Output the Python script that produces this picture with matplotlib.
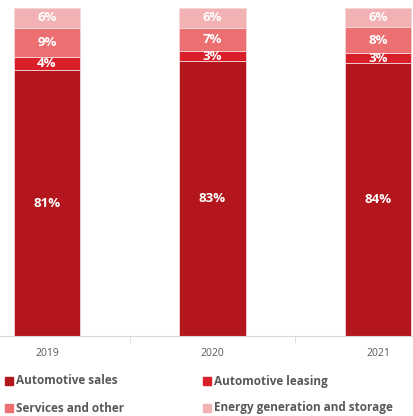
import numpy as np
import matplotlib.pyplot as plt
from matplotlib.patches import Rectangle

#Data
years = ['2019', '2020', '2021']
auto_sales = [81, 83, 84]
auto_leasing = [4, 3, 3]
services = [9, 7, 8]
energy = [6, 6, 6]

series = [auto_sales, auto_leasing, services, energy]
names = ['Automotive sales', 'Automotive leasing', 'Services and other', 'Energy generation and storage']
colors = ['#B3161D', '#D9202A', '#EC6F72', '#F2B1B3']

plt.rcParams['font.family'] = ['Open Sans', 'DejaVu Sans']

fig = plt.figure(figsize=(4.14, 4.16), dpi=100)
ax = fig.add_axes([0, 80/416, 1, 328/416])

x = np.arange(len(years))
totals = np.sum(np.array(series, dtype=float), axis=0)   # 100% stacked
bottom = np.zeros(len(years))
for vals, c in zip(series, colors):
    raw = np.array(vals, dtype=float)
    share = raw / totals * 100
    ax.bar(x, share, 0.40, bottom=bottom, color=c, edgecolor='#F4D6D7', linewidth=0.6)
    for xi, b, s, v in zip(x, bottom, share, raw):
        ax.text(xi, b + s/2, f'{int(v)}%', ha='center', va='center',
                color='white', fontweight='bold', fontsize=9.5)
    bottom += share

ax.set_xlim(-47/165.5, (414-47)/165.5)
ax.set_ylim(0, 100)
for s in ['top', 'right', 'left']:
    ax.spines[s].set_visible(False)
ax.spines['bottom'].set_color('#D9D9D9')
ax.set_yticks([])
ax.set_xticks(x)
ax.set_xticklabels(years, color='#595959', fontsize=7.5)
ax.tick_params(axis='x', which='major', length=0, pad=9)
ax.set_xticks([0.5, 1.5], minor=True)
ax.tick_params(axis='x', which='minor', length=5, color='#D9D9D9')

# legend
pos = [(5, 381), (203, 381), (5, 408), (203, 408)]
for (px, py), n, c in zip(pos, names, colors):
    fig.patches.append(Rectangle((px/414, 1 - (py+4)/416), 8/414, 8/416,
                                 transform=fig.transFigure, color=c))
    fig.text((px+11)/414, 1 - py/416, n, ha='left', va='center',
             color='#595959', fontweight='bold', fontsize=8.5)

plt.savefig('out.png', dpi=100)
